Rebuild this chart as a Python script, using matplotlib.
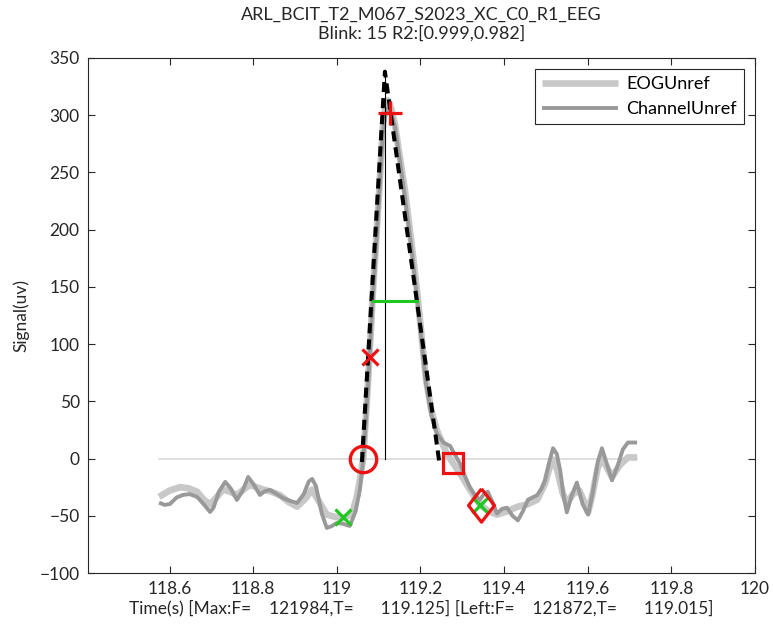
import matplotlib
matplotlib.use('Agg')
import matplotlib.pyplot as plt

plt.rcParams['font.family'] = ['Lato', 'DejaVu Sans']

# EOG (light) signal
eog_t = [118.575, 118.600, 118.625, 118.645, 118.666, 118.682, 118.697, 118.712,
         118.728, 118.745, 118.761, 118.777, 118.792, 118.808, 118.823, 118.844,
         118.864, 118.885, 118.905, 118.925, 118.941, 118.958, 118.976, 118.996,
         119.015, 119.028, 119.039, 119.048, 119.055, 119.063, 119.069, 119.075,
         119.086, 119.094, 119.101, 119.110, 119.116, 119.122, 119.130, 119.139,
         119.150, 119.163, 119.178, 119.192, 119.203, 119.213, 119.226, 119.239,
         119.262, 119.278, 119.298, 119.318, 119.342, 119.362, 119.383, 119.408,
         119.433, 119.456, 119.479, 119.498, 119.510, 119.517, 119.527, 119.540,
         119.550, 119.565, 119.580, 119.592, 119.601, 119.612, 119.624, 119.634,
         119.646, 119.658, 119.676, 119.696, 119.718]
eog_v = [-33.5, -28, -25, -26, -29, -36, -40, -34,
         -27, -29, -32, -27, -23, -25, -27, -29,
         -32, -38, -42, -35, -27, -38, -49, -51,
         -52, -50, -45, -33, -19, 0, 33, 69,
         144, 190, 232, 290, 307, 313, 306, 292,
         265, 234, 190, 146, 106, 70, 42, 25,
         5, -4, -15, -27, -40, -46, -49, -46,
         -42, -40, -36, -22, -6, -1, -10, -30,
         -39, -31, -28, -38, -47, -30, -8, 0,
         -8, -16, -6, 1, 1]

# Channel (dark) signal
ch_t = [118.575, 118.588, 118.601, 118.617, 118.632, 118.648, 118.666, 118.682,
        118.697, 118.705, 118.718, 118.733, 118.746, 118.761, 118.775, 118.788,
        118.800, 118.816, 118.828, 118.840, 118.856, 118.871, 118.888, 118.905,
        118.921, 118.933, 118.941, 118.950, 118.964, 118.976, 118.988, 119.000,
        119.015, 119.031, 119.045, 119.055, 119.063, 119.069, 119.075, 119.086,
        119.094, 119.101, 119.110, 119.116, 119.122, 119.130, 119.139, 119.150,
        119.163, 119.178, 119.192, 119.203, 119.213, 119.226, 119.239, 119.255,
        119.271, 119.283, 119.294, 119.306, 119.318, 119.330, 119.342, 119.352,
        119.361, 119.372, 119.383, 119.395, 119.407, 119.420, 119.433, 119.445,
        119.457, 119.468, 119.479, 119.490, 119.498, 119.508, 119.517, 119.526,
        119.534, 119.542, 119.550, 119.562, 119.574, 119.588, 119.601, 119.612,
        119.624, 119.634, 119.646, 119.658, 119.670, 119.684, 119.696, 119.718]
ch_v = [-38.5, -40.5, -39.7, -34, -31.8, -31, -33.6, -40,
        -46.7, -43, -29, -20.4, -26, -36.2, -28, -16.1,
        -22, -31.8, -28.5, -27.4, -31, -34.4, -37, -38.8,
        -31, -20, -17.8, -24, -48, -60.6, -59, -56.3,
        -57, -58.9, -46, -27.4, -1, 30, 66, 140,
        185, 228, 285, 300, 306, 302, 290, 262,
        228, 185, 140, 102, 66, 38, 22, 14,
        11, 3, -4, -15, -25, -32, -36, -31,
        -29, -38, -48, -44, -43, -50, -54, -46,
        -36, -34, -32, -26, -19, -3, 9, 4,
        -10, -32, -47, -32, -21, -40, -49, -30,
        -3, 9, -5, -19, -8, 8, 14, 14]

# fitted tent lines and landmarks
fit_t = [119.060, 119.115, 119.245]
fit_v = [-3, 338, -3]
apex_t = 119.115
apex_v = 338
half_t = [119.086, 119.191]
half_v = 138
zero_t = [118.575, 119.718]

max_pt = (119.128, 302)
left_zero = (119.063, 0)
left_out = (119.079, 89)
right_zero = (119.278, -4)
right_base = (119.345, -40.5)
base_t = [119.015, 119.342]
base_v = [-51, -41]

title_txt = 'ARL_BCIT_T2_M067_S2023_XC_C0_R1_EEG\nBlink: 15 R2:[0.999,0.982]'
xlabel_txt = ('Time(s) [Max:F=    121984,T=      119.125] '
              '[Left:F=    121872,T=      119.015]')

red = '#ee1111'
green = '#1ec81e'
fs = 12.5

fig = plt.figure(figsize=(7.73, 6.29), dpi=100)
ax = fig.add_axes([88 / 773, 1 - 573 / 629, 667 / 773, 515 / 629])

ax.plot(zero_t, [0, 0], color='#d6d6d6', lw=1.1, zorder=1)
ax.plot(eog_t, eog_v, color='#c8c8c8', lw=4.8, label='EOGUnref', zorder=2,
        solid_joinstyle='round', solid_capstyle='butt')
ax.plot(ch_t, ch_v, color='#999999', lw=2.8, label='ChannelUnref', zorder=3,
        solid_joinstyle='round', solid_capstyle='butt')
ax.plot(fit_t, fit_v, color='black', lw=2.9, dashes=(2.5, 1.5), zorder=4)
ax.plot([apex_t, apex_t], [0, apex_v], color='black', lw=0.8, zorder=5)
ax.plot(half_t, [half_v, half_v], color=green, lw=2.2, zorder=5)

diamond = [(0, 1), (0.78, 0), (0, -1), (-0.78, 0), (0, 1)]
mk = dict(linestyle='none', zorder=6)
ax.plot(*max_pt, marker='+', ms=17, mew=2.3, color=red, **mk)
ax.plot(*left_zero, marker='o', ms=19, mew=2.4, mfc='none', mec=red, **mk)
ax.plot(*left_out, marker='x', ms=12, mew=2.3, color=red, **mk)
ax.plot(*right_zero, marker='s', ms=15, mew=2.3, mfc='none', mec=red, **mk)
ax.plot(base_t, base_v, marker='x', ms=12, mew=2.3, color=green, **mk)
ax.plot(*right_base, marker=diamond, ms=24, mew=2.3, mfc='none', mec=red, **mk)

ax.set_xlim(118.405, 120)
ax.set_ylim(-100, 350)
ax.set_xticks([118.6, 118.8, 119, 119.2, 119.4, 119.6, 119.8, 120])
ax.set_xticklabels(['118.6', '118.8', '119', '119.2', '119.4', '119.6', '119.8', '120'])
ax.set_yticks(range(-100, 351, 50))
ax.set_yticklabels(['\u2212100', '\u221250', '0', '50', '100', '150', '200', '250', '300', '350'])
ax.tick_params(direction='in', length=5, width=0.8, top=True, right=True,
               labelsize=fs, colors='#262626', pad=6)
for s in ax.spines.values():
    s.set_color('#262626')
    s.set_linewidth(0.8)

ax.set_title(title_txt, fontsize=13, color='#262626', pad=14, linespacing=1.2)
ax.set_xlabel(xlabel_txt, fontsize=fs, color='#262626', labelpad=2)
ax.set_ylabel('Signal(uv)', fontsize=fs, color='#262626', labelpad=7)

leg = ax.legend(loc='upper right', fontsize=13, handlelength=4.2,
                handletextpad=0.45, borderaxespad=0.6, fancybox=False,
                framealpha=1, edgecolor='#262626', borderpad=0.4,
                labelspacing=0.5)
leg.get_frame().set_linewidth(0.8)

fig.savefig('out.png', dpi=100)
